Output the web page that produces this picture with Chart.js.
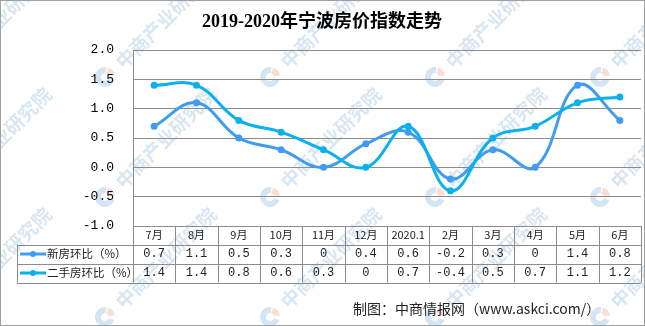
<!DOCTYPE html>
<html>
<head>
<meta charset="utf-8">
<script src="https://cdn.jsdelivr.net/npm/chart.js@4.4.0/dist/chart.umd.min.js"></script>
<style>
  html, body { margin: 0; padding: 0; background: #fff; }
  #wrap { width: 645px; height: 326px; }
</style>
</head>
<body>
<div id="wrap"><canvas id="priceChart" width="645" height="326"></canvas></div>
<script>
// Month labels and month-on-month change of the price index (%)
const months = ['7月', '8月', '9月', '10月', '11月', '12月', '2020.1', '2月', '3月', '4月', '5月', '6月'];
const newHomes = [0.7, 1.1, 0.5, 0.3, 0, 0.4, 0.6, -0.2, 0.3, 0, 1.4, 0.8];
const resaleHomes = [1.4, 1.4, 0.8, 0.6, 0.3, 0, 0.7, -0.4, 0.5, 0.7, 1.1, 1.2];
const seriesNames = ['新房环比（%）', '二手房环比（%）'];
const yTicks = [2.0, 1.5, 1.0, 0.5, 0.0, -0.5, -1.0];

const BLUE = '#3f9cf0';
const CYAN = '#0bb1ee';
const GRID = '#8c8c8c';
const CJK = '"Noto Sans CJK SC", sans-serif';

const fmt = v => (v === 0 ? '0' : v.toFixed(1));

// Faint diagonal watermark with the round logo
const watermark = {
  id: 'watermark',
  beforeDraw(chart) {
    const ctx = chart.ctx;
    ctx.save();
    ctx.fillStyle = '#fff';
    ctx.fillRect(0, 0, chart.width, chart.height);
    for (const ly of [77, 197, 317]) {
      for (const lx of [-60, 105, 270, 435, 600]) {
        ctx.lineWidth = 6;
        ctx.strokeStyle = 'rgba(160,200,228,0.45)';
        ctx.beginPath();
        ctx.arc(lx, ly, 7, Math.PI * 0.1, Math.PI * 1.55);
        ctx.stroke();
        ctx.strokeStyle = 'rgba(245,180,160,0.45)';
        ctx.beginPath();
        ctx.arc(lx, ly, 7, Math.PI * 1.6, Math.PI * 1.95);
        ctx.stroke();

        ctx.save();
        ctx.translate(lx + 14, ly - 12);
        ctx.rotate(-Math.PI / 4);
        ctx.font = 'bold 19px ' + CJK;
        ctx.textBaseline = 'middle';
        ctx.fillStyle = 'rgba(150,190,222,0.38)';
        ctx.fillText('中商产业研究院', 0, 0);
        ctx.restore();
      }
    }
    ctx.restore();
  }
};

// Title, data table under the plot, source line and frame
const dataTable = {
  id: 'dataTable',
  afterDraw(chart) {
    const { ctx, chartArea: a, scales: { x } } = chart;
    const colW = (a.right - a.left) / months.length;
    const rows = [a.bottom, a.bottom + 18.5, a.bottom + 37.5, a.bottom + 56.5];
    const tableLeft = 17;
    ctx.save();

    ctx.fillStyle = '#000';
    ctx.textAlign = 'center';
    ctx.textBaseline = 'middle';
    ctx.font = 'bold 18px "Liberation Serif", ' + CJK;
    ctx.fillText('2019-2020年宁波房价指数走势', 322, 22);

    ctx.strokeStyle = GRID;
    ctx.lineWidth = 1;
    ctx.beginPath();
    for (let i = 0; i <= months.length; i++) {
      const bx = Math.round(a.left + i * colW) + 0.5;
      ctx.moveTo(bx, rows[0]);
      ctx.lineTo(bx, rows[3]);
    }
    ctx.moveTo(tableLeft + 0.5, rows[1]);
    ctx.lineTo(tableLeft + 0.5, rows[3]);
    for (let r = 1; r < rows.length; r++) {
      ctx.moveTo(tableLeft, Math.round(rows[r]) + 0.5);
      ctx.lineTo(a.right, Math.round(rows[r]) + 0.5);
    }
    ctx.stroke();

    const mid = r => (rows[r] + rows[r + 1]) / 2;
    ctx.fillStyle = '#222';
    ctx.font = '11px ' + CJK;
    months.forEach((m, i) => ctx.fillText(m, x.getPixelForValue(i), mid(0)));
    ctx.font = '12px "Liberation Mono", monospace';
    [newHomes, resaleHomes].forEach((vals, r) => {
      vals.forEach((v, i) => ctx.fillText(fmt(v), x.getPixelForValue(i), mid(r + 1)));
    });

    [BLUE, CYAN].forEach((c, r) => {
      const y = mid(r + 1);
      ctx.strokeStyle = c;
      ctx.lineWidth = 3;
      ctx.beginPath();
      ctx.moveTo(20, y);
      ctx.lineTo(46, y);
      ctx.stroke();
      ctx.fillStyle = c;
      ctx.beginPath();
      ctx.arc(33, y, 3, 0, Math.PI * 2);
      ctx.fill();
      ctx.fillStyle = '#222';
      ctx.textAlign = 'left';
      ctx.font = '11.5px ' + CJK;
      ctx.fillText(seriesNames[r], 47, y);
      ctx.textAlign = 'center';
    });

    ctx.textAlign = 'left';
    ctx.font = '14px ' + CJK;
    ctx.fillStyle = '#222';
    ctx.fillText('制图：中商情报网（www.askci.com/）', 353, 309);

    ctx.strokeStyle = '#a0a0a0';
    ctx.lineWidth = 1;
    ctx.strokeRect(0.5, 0.5, chart.width - 1, chart.height - 1);
    ctx.restore();
  }
};

const lineSet = (label, data, color, order) => ({
  label,
  data,
  borderColor: color,
  backgroundColor: color,
  borderWidth: 3,
  pointRadius: 3.5,
  pointBorderWidth: 0,
  tension: 0.4,
  order
});

new Chart(document.getElementById('priceChart'), {
  type: 'line',
  data: {
    labels: months,
    datasets: [
      lineSet(seriesNames[0], newHomes, BLUE, 2),
      lineSet(seriesNames[1], resaleHomes, CYAN, 1)
    ]
  },
  options: {
    responsive: false,
    animation: false,
    layout: { padding: { top: 50, right: 2, bottom: 100, left: 0 } },
    plugins: {
      legend: { display: false },
      tooltip: { enabled: false }
    },
    scales: {
      x: { display: false, offset: true },
      y: {
        min: -1,
        max: 2,
        afterBuildTicks: s => { s.ticks = yTicks.map(v => ({ value: v })); },
        afterFit: s => { s.width = 133; },
        grid: { color: GRID, drawTicks: false },
        border: { color: GRID },
        ticks: {
          padding: 19,
          color: '#000',
          font: { family: 'Liberation Mono', size: 13 },
          callback: v => v.toFixed(1)
        }
      }
    }
  },
  plugins: [watermark, dataTable]
});
</script>
</body>
</html>
